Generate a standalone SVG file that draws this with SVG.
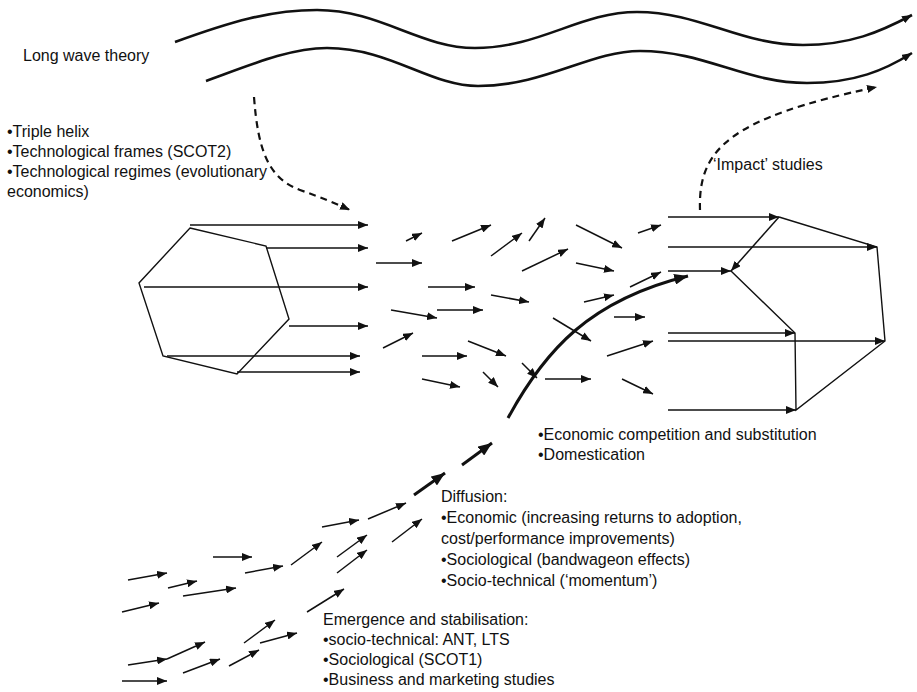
<svg xmlns="http://www.w3.org/2000/svg" width="917" height="692" viewBox="0 0 917 692">
<defs>
<style>
.t{font-family:"Liberation Sans",Arial,sans-serif;font-size:16px;fill:#111}
.ln{stroke:#111;stroke-width:1.4;fill:none}
.ar{stroke:#111;stroke-width:1.5;fill:none;marker-end:url(#a)}
.tk{stroke:#111;stroke-width:3;fill:none;marker-end:url(#tk)}
.wv{stroke:#111;stroke-width:2.6;fill:none;marker-end:url(#a)}
.ds{stroke:#111;stroke-width:2.2;fill:none;stroke-dasharray:7 5;marker-end:url(#a)}
</style>
<marker id="a" viewBox="0 0 10 8" refX="10" refY="4" markerWidth="10" markerHeight="8" markerUnits="userSpaceOnUse" orient="auto"><path d="M0,0L10,4L0,8z" fill="#111"/></marker>
<marker id="tk" viewBox="0 0 10 8" refX="10" refY="4" markerWidth="14" markerHeight="11" markerUnits="userSpaceOnUse" orient="auto"><path d="M0,0L10,4L0,8z" fill="#111"/></marker>
</defs>
<rect width="917" height="692" fill="#fff"/>

<g id="long-wave-theory">
<text class="t" x="23" y="61">Long wave theory</text>
</g>
<g id="waves">
<path class="wv" d="M175,42 C230,22 270,10 317,10 C380,10 420,48 475,48 C540,48 580,12 637,12 C700,12 740,45 803,45 C850,45 880,32 912,15"/>
<path class="wv" d="M206,81 C250,65 290,48 327,48 C390,48 430,86 478,86 C545,86 590,51 640,51 C705,51 745,83 807,83 C855,83 885,70 912,53"/>
</g>

<g id="institutions-text">
<text class="t" x="7" y="137">•Triple helix</text>
<text class="t" x="7" y="157">•Technological frames (SCOT2)</text>
<text class="t" x="7" y="177">•Technological regimes (evolutionary</text>
<text class="t" x="7" y="197">economics)</text>
</g>

<g id="impact-text">
<text class="t" x="713" y="170">‘Impact’ studies</text>
</g>

<g id="competition-text">
<text class="t" x="538" y="440">•Economic competition and substitution</text>
<text class="t" x="538" y="460">•Domestication</text>
</g>

<g id="diffusion-text">
<text class="t" x="441" y="502">Diffusion:</text>
<text class="t" x="441" y="523">•Economic (increasing returns to adoption,</text>
<text class="t" x="441" y="544">cost/performance improvements)</text>
<text class="t" x="441" y="565">•Sociological (bandwageon effects)</text>
<text class="t" x="441" y="586">•Socio-technical (‘momentum’)</text>
</g>

<g id="emergence-text">
<text class="t" x="323" y="625">Emergence and stabilisation:</text>
<text class="t" x="323" y="645">•socio-technical: ANT, LTS</text>
<text class="t" x="323" y="665">•Sociological (SCOT1)</text>
<text class="t" x="323" y="685">•Business and marketing studies</text>
</g>

<g id="left-hexagon">
<polygon class="ln" points="190,228 266,246 289,319 237,374 163,356 139,283"/>
</g>

<g id="right-polygon">
<path class="ln" d="M779,217 L877,247 L885,341 L796,410 L795,333 L731,271"/>
</g>

<g id="connectors">
<!-- dashed -->
<path class="ds" d="M254,97 C258,150 268,178 300,190 C320,197 335,203 350,210"/>
<path class="ds" d="M700,210 C698,150 728,118 877,87"/>
<!-- hexagon arrows -->
<line class="ar" x1="190" y1="225" x2="368" y2="225"/>
<line class="ar" x1="266" y1="248" x2="368" y2="248"/>
<line class="ar" x1="144" y1="287" x2="368" y2="287"/>
<line class="ar" x1="289" y1="326" x2="368" y2="326"/>
<line class="ar" x1="167" y1="356" x2="360" y2="356"/>
<line class="ar" x1="237" y1="372" x2="360" y2="372"/>
<!-- middle field -->
<line class="ar" x1="406" y1="241" x2="422" y2="233"/>
<line class="ar" x1="452" y1="241" x2="491" y2="225"/>
<line class="ar" x1="376" y1="263" x2="422" y2="263"/>
<line class="ar" x1="491" y1="256" x2="522" y2="233"/>
<line class="ar" x1="529" y1="241" x2="545" y2="218"/>
<line class="ar" x1="576" y1="225" x2="622" y2="248"/>
<line class="ar" x1="638" y1="233" x2="661" y2="225"/>
<line class="ar" x1="522" y1="271" x2="568" y2="249"/>
<line class="ar" x1="576" y1="263" x2="614" y2="271"/>
<line class="ar" x1="428" y1="287" x2="475" y2="287"/>
<line class="ar" x1="491" y1="295" x2="529" y2="302"/>
<line class="ar" x1="630" y1="287" x2="661" y2="272"/>
<line class="ar" x1="584" y1="302" x2="614" y2="295"/>
<line class="ar" x1="391" y1="310" x2="437" y2="318"/>
<line class="ar" x1="437" y1="310" x2="483" y2="310"/>
<line class="ar" x1="614" y1="317" x2="645" y2="317"/>
<line class="ar" x1="553" y1="318" x2="591" y2="341"/>
<line class="ar" x1="383" y1="348" x2="413" y2="333"/>
<line class="ar" x1="422" y1="356" x2="467" y2="356"/>
<line class="ar" x1="468" y1="341" x2="506" y2="356"/>
<line class="ar" x1="607" y1="356" x2="653" y2="341"/>
<line class="ar" x1="422" y1="379" x2="460" y2="387"/>
<line class="ar" x1="483" y1="372" x2="498" y2="387"/>
<line class="ar" x1="522" y1="363" x2="537" y2="378"/>
<line class="ar" x1="545" y1="379" x2="591" y2="379"/>
<line class="ar" x1="622" y1="379" x2="653" y2="394"/>
<!-- thick trajectory -->
<path class="tk" d="M508,418 C545,350 590,300 688,276"/>
<line class="tk" x1="414" y1="495" x2="445" y2="473"/>
<line class="tk" x1="462" y1="465" x2="492" y2="443"/>
<!-- right arrows -->
<line class="ar" x1="668" y1="217" x2="779" y2="217"/>
<line class="ar" x1="668" y1="247" x2="877" y2="247"/>
<line class="ar" x1="668" y1="271" x2="731" y2="271"/>
<line class="ar" x1="668" y1="333" x2="795" y2="333"/>
<line class="ar" x1="668" y1="341" x2="885" y2="341"/>
<line class="ar" x1="668" y1="410" x2="796" y2="410"/>
<line class="ar" x1="779" y1="217" x2="731" y2="271"/>
<!-- bottom-left field -->
<line class="ar" x1="128" y1="580" x2="167" y2="573"/>
<line class="ar" x1="168" y1="588" x2="197" y2="581"/>
<line class="ar" x1="183" y1="596" x2="236" y2="588"/>
<line class="ar" x1="122" y1="612" x2="159" y2="603"/>
<line class="ar" x1="213" y1="557" x2="252" y2="557"/>
<line class="ar" x1="245" y1="573" x2="283" y2="566"/>
<line class="ar" x1="291" y1="565" x2="322" y2="542"/>
<line class="ar" x1="322" y1="527" x2="359" y2="520"/>
<line class="ar" x1="368" y1="519" x2="406" y2="503"/>
<line class="ar" x1="337" y1="557" x2="367" y2="535"/>
<line class="ar" x1="337" y1="573" x2="367" y2="550"/>
<line class="ar" x1="392" y1="542" x2="422" y2="519"/>
<line class="ar" x1="307" y1="612" x2="344" y2="589"/>
<line class="ar" x1="128" y1="665" x2="167" y2="659"/>
<line class="ar" x1="167" y1="659" x2="205" y2="642"/>
<line class="ar" x1="122" y1="681" x2="167" y2="681"/>
<line class="ar" x1="183" y1="673" x2="220" y2="659"/>
<line class="ar" x1="229" y1="666" x2="259" y2="650"/>
<line class="ar" x1="244" y1="643" x2="275" y2="620"/>
<line class="ar" x1="260" y1="643" x2="297" y2="633"/>
</g>
</svg>
